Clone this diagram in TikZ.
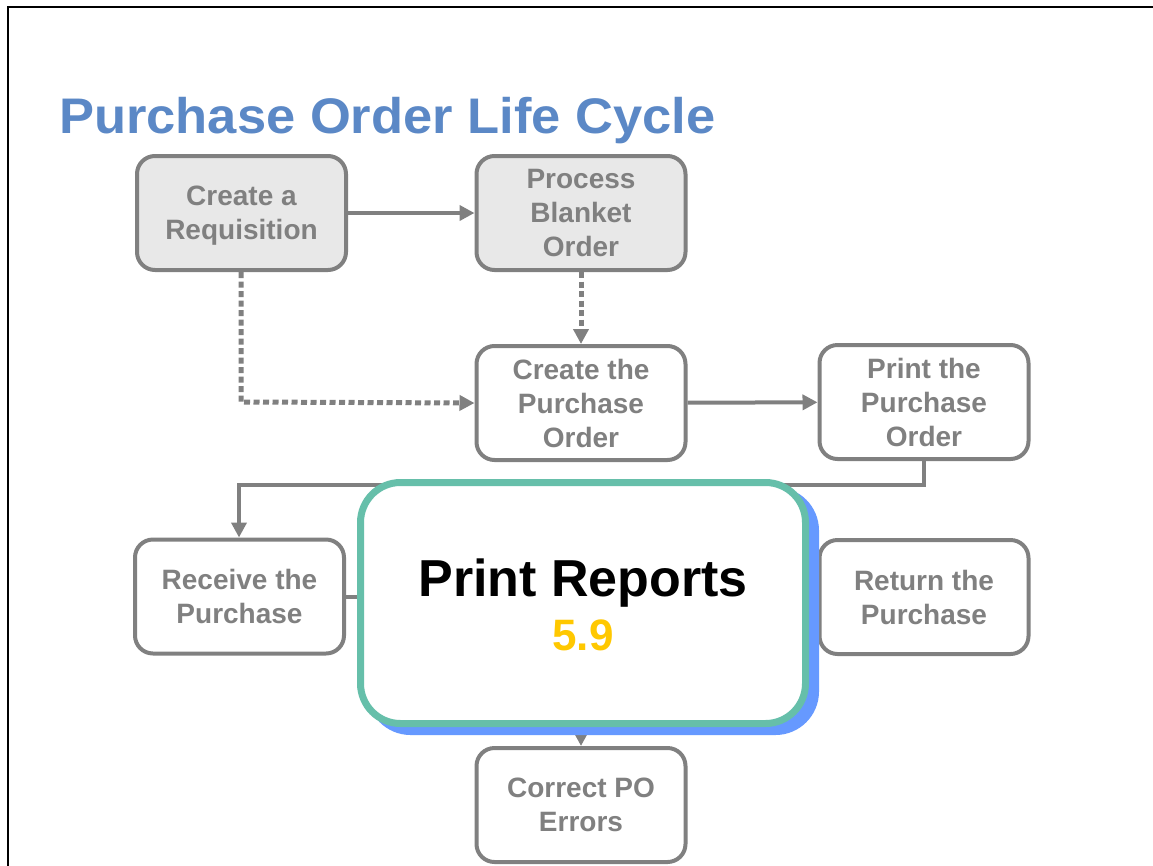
\documentclass[tikz,border=0pt]{standalone}
\usepackage{fontspec}
\setmainfont{Liberation Sans}
\usetikzlibrary{arrows.meta}
\definecolor{boxgrey}{HTML}{808080}
\definecolor{boxfill}{HTML}{E8E8E8}
\definecolor{titleblue}{HTML}{5B88C6}
\definecolor{tealb}{HTML}{66BFAA}
\definecolor{shadowblue}{HTML}{6699FF}
\definecolor{goldtxt}{HTML}{FFC800}
\begin{document}
\begin{tikzpicture}[x=1pt,y=-1pt,
  stepbox/.style={draw=boxgrey, line width=4pt, rounded corners=18pt, fill=white,
    minimum width=209pt, minimum height=114pt, align=center, inner sep=0pt,
    text depth=0pt,
    text=boxgrey, font=\fontsize{28}{34}\selectfont\bfseries},
  greybox/.style={stepbox, fill=boxfill},
  conn/.style={draw=boxgrey, line width=4pt, -{Triangle[length=15pt,width=15pt]}},
  dotconn/.style={conn, line width=5pt, dash pattern=on 6pt off 3.5pt},
  bigbox/.style={line width=7pt, rounded corners=40pt, minimum width=445pt, minimum height=241pt, inner sep=0pt}
]
\useasboundingbox (0,0) rectangle (1153,865);
\fill[white] (0,0) rectangle (1153,865);
\draw[line width=2.5pt] (8,866) -- (8,7) -- (1154,7);

\node[anchor=base west, inner sep=0pt, text=titleblue, font=\fontsize{50}{60}\selectfont\bfseries] (title) at (59,133) {\scalebox{1.05}[1]{Purchase Order Life Cycle}};

\node[greybox] (req) at (241.5,213) {Create a\\Requisition};
\node[greybox] (blk) at (581,213) {Process\\Blanket\\Order};
\node[stepbox] (cpo) at (581,403) {Create the\\Purchase\\Order};
\node[stepbox] (ppo) at (924,402) {Print the\\Purchase\\Order};
\node[stepbox] (rcv) at (239.5,596.5) {Receive the\\Purchase};
\node[stepbox] (ret) at (924,597) {Return the\\Purchase};
\node[stepbox] (err) at (581,805) {Correct PO\\Errors};

\coordinate (bend1) at (241,402);
\coordinate (yp) at (924,485);
\coordinate (xp) at (239,485);

\draw[conn] (req) -- (blk);
\draw[dotconn] (blk) -- (cpo);
\draw[dotconn] (req.south -| bend1) -- (bend1) -- (cpo.west);
\draw[conn] (cpo) -- (ppo);
\draw[conn] (ppo.south) -- (yp) -- (xp) -- (rcv.north -| xp);
\draw[conn] (rcv.east) -| (err.north);

\node[bigbox, draw=shadowblue, fill=shadowblue] (shadow) at (593,611) {};
\node[bigbox, draw=tealb, fill=white, align=center] (rep) at (583,603) {};
\node[anchor=base, inner sep=0pt, font=\fontsize{52}{60}\selectfont\bfseries] (reptitle) at (583,596) {Print Reports};
\node[anchor=base, inner sep=0pt, text=goldtxt, font=\fontsize{44}{50}\selectfont\bfseries] (repnum) at (583,650) {5.9};
\end{tikzpicture}
\end{document}
